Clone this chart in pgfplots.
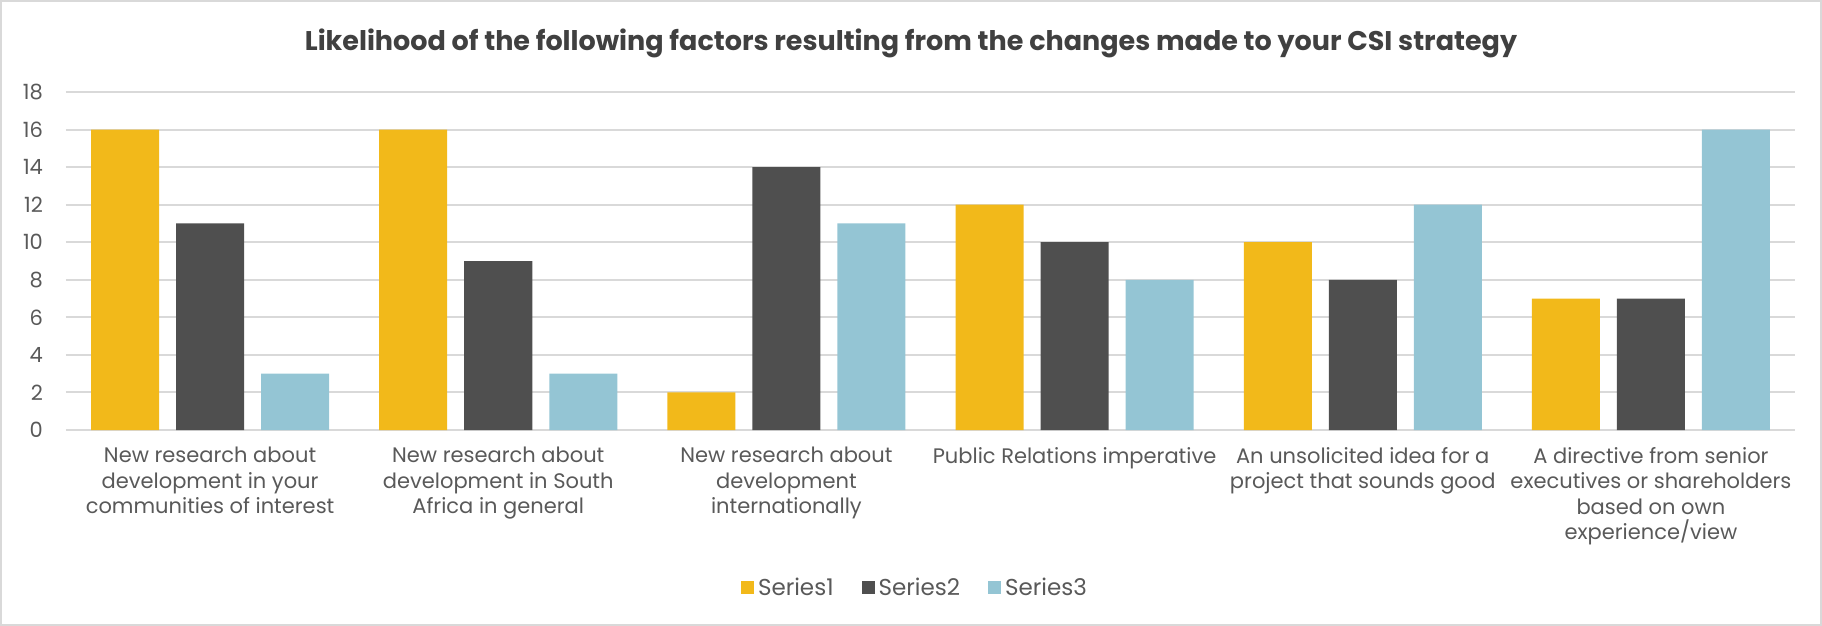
\documentclass[border=0pt]{standalone}
\usepackage{fontspec}
\setmainfont{Poppins}
\usepackage{pgfplots}
\pgfplotsset{compat=1.18}
\definecolor{s1}{HTML}{F2B91A}
\definecolor{s2}{HTML}{4F4F4F}
\definecolor{s3}{HTML}{94C5D4}
\definecolor{gridc}{HTML}{D9D9D9}
\definecolor{txt}{HTML}{595959}
\definecolor{ttl}{HTML}{404040}
\begin{document}
\begin{tikzpicture}
\draw[gridc, line width=0.8pt] (0.4pt,-0.4pt) rectangle (910.6pt,-312.6pt);
\node[font=\bfseries\fontsize{13.5}{16}\selectfont, text=ttl] at (455.5pt,-21.5pt) {Likelihood of the following factors resulting from the changes made to your CSI strategy};
\begin{axis}[
  at={(33pt,-215pt)}, anchor=south west,
  width=864.5pt, height=169pt, scale only axis,
  ybar=8.5pt, bar width=34pt,
  xmin=-0.5, xmax=5.5, ymin=0, ymax=18,
  ytick={0,2,...,18},
  xtick={0,...,5},
  xticklabels={{New research about\\development in your\\communities of interest},
               {New research about\\development in South\\Africa in general},
               {New research about\\development\\internationally},
               {Public Relations imperative},
               {An unsolicited idea for a\\project that sounds good},
               {A directive from senior\\executives or shareholders\\based on own\\experience/view}},
  xticklabel style={align=center, font=\fontsize{10.5}{12.8}\selectfont, text=txt, yshift=-5pt},
  yticklabel style={font=\fontsize{10.5}{13}\selectfont, text=txt, xshift=-8pt},
  /pgf/number format/assume math mode=true,
  major tick length=0pt,
  ymajorgrids, grid style={gridc, line width=1pt},
  axis x line*=bottom, axis y line*=left,
  x axis line style={gridc, line width=1pt},
  y axis line style={draw=none},
  legend style={at={(0.4916,-0.467)}, anchor=center, draw=none, fill=none,
    legend columns=3, font=\fontsize{11.5}{13}\selectfont, text=txt,
    /tikz/every even column/.append style={column sep=12pt}},
  legend image code/.code={\fill[#1] (0pt,-3.25pt) rectangle (6.5pt,3.25pt);},
]
\addplot[fill=s1, draw=none] coordinates {(0,16) (1,16) (2,2) (3,12) (4,10) (5,7)};
\addplot[fill=s2, draw=none] coordinates {(0,11) (1,9) (2,14) (3,10) (4,8) (5,7)};
\addplot[fill=s3, draw=none] coordinates {(0,3) (1,3) (2,11) (3,8) (4,12) (5,16)};
\legend{Series1,Series2,Series3}
\end{axis}
\end{tikzpicture}
\end{document}
